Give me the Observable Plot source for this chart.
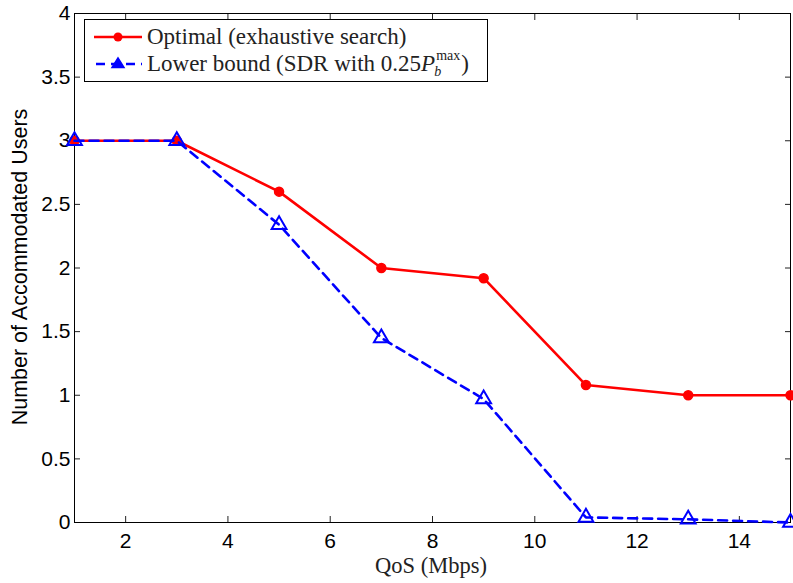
<!DOCTYPE html>
<html>
<head>
<meta charset="utf-8">
<script src="https://cdn.jsdelivr.net/npm/d3@7"></script>
<script src="https://cdn.jsdelivr.net/npm/@observablehq/plot@0.6"></script>
<style>
  html, body { margin: 0; padding: 0; background: #fff; }
  #wrap { position: relative; width: 793px; height: 583px; }
  #wrap svg.plot { position: absolute; left: 0; top: 0; }
  .ytitle { position: absolute; left: 20px; top: 267px; transform: translate(-50%, -50%) rotate(-90deg);
            font: 21.5px "Liberation Sans", Arial, sans-serif; white-space: nowrap; color: #000; }
  .xtitle { position: absolute; left: 431px; top: 566px; transform: translate(-50%, -50%);
            font: 22.5px/24px "Liberation Serif", "DejaVu Serif", serif; white-space: nowrap; color: #222; }
  .legend { position: absolute; left: 84px; top: 19px; width: 402px; height: 61px; background: #fff;
            border: 1px solid #000; font: 23px "Liberation Serif", "DejaVu Serif", serif; color: #222; }
  .legend .row { position: absolute; left: 0; height: 28px; display: flex; align-items: center; white-space: nowrap; }
  .legend svg { margin-left: 9px; margin-right: 5px; }
  .scripts { display: inline-block; position: relative; width: 26px; height: 0; vertical-align: baseline; }
  .scripts .sup { position: absolute; left: 1px; top: -23px; font-size: 14px; line-height: 16px; }
  .scripts .sub { position: absolute; left: -1px; top: -7px; font-size: 14px; line-height: 16px; font-style: italic; }
</style>
</head>
<body>
<div id="wrap"></div>
<script>
const qos = [1, 3, 5, 7, 9, 11, 13, 15];
const optimal = [3, 3, 2.6, 2.0, 1.92, 1.08, 1.0, 1.0];
const lowerBound = [3, 3, 2.34, 1.45, 0.97, 0.04, 0.025, 0];
const xTicks = [2, 4, 6, 8, 10, 12, 14];
const yTicks = [0, 0.5, 1, 1.5, 2, 2.5, 3, 3.5, 4];
const seriesNames = ["Optimal (exhaustive search)", "Lower bound (SDR with 0.25"];

const optData = qos.map((x, i) => ({x, y: optimal[i]}));
const lbData = qos.map((x, i) => ({x, y: lowerBound[i]}));

const tickFont = "Liberation Sans, Arial, sans-serif";

const chart = Plot.plot({
  width: 793,
  height: 583,
  marginLeft: 74,
  marginRight: 3,
  marginTop: 13,
  marginBottom: 61,
  style: {background: "white", overflow: "visible"},
  x: {domain: [1, 15]},
  y: {domain: [0, 4]},
  marks: [
    // inward ticks on all four sides
    Plot.axisX(xTicks, {anchor: "bottom", tickSize: -6, tickFormat: () => "", label: null, stroke: "#222"}),
    Plot.axisX(xTicks, {anchor: "top", tickSize: -6, tickFormat: () => "", label: null, stroke: "#222"}),
    Plot.axisY(yTicks, {anchor: "left", tickSize: -6, tickFormat: () => "", label: null, stroke: "#222"}),
    Plot.axisY(yTicks, {anchor: "right", tickSize: -6, tickFormat: () => "", label: null, stroke: "#222"}),
    // tick labels
    Plot.axisX(xTicks, {anchor: "bottom", tickSize: 0, tickPadding: 11, label: null, fontSize: 21, fontFamily: tickFont, fill: "#000", tickFormat: d => String(d)}),
    Plot.axisY(yTicks, {anchor: "left", tickSize: 0, tickPadding: 4, label: null, fontSize: 21, fontFamily: tickFont, fill: "#000", tickFormat: d => String(d)}),
    Plot.frame({stroke: "#000", strokeWidth: 1}),
    // series
    Plot.line(optData, {x: "x", y: "y", stroke: "#ff0000", strokeWidth: 2.6}),
    Plot.dot(optData, {x: "x", y: "y", r: 4.5, fill: "#ff0000", stroke: "#ff0000"}),
    Plot.line(lbData, {x: "x", y: "y", stroke: "#0000ff", strokeWidth: 2.6, strokeDasharray: "9,6"}),
    Plot.dot(lbData, {x: "x", y: "y", symbol: "triangle", r: 5.5, fill: "none", stroke: "#0000ff", strokeWidth: 2})
  ]
});
chart.classList.add("plot");

const wrap = document.getElementById("wrap");
wrap.appendChild(chart);

const ytitle = document.createElement("div");
ytitle.className = "ytitle";
ytitle.textContent = "Number of Accommodated Users";
wrap.appendChild(ytitle);

const xtitle = document.createElement("div");
xtitle.className = "xtitle";
xtitle.textContent = "QoS (Mbps)";
wrap.appendChild(xtitle);

const legend = document.createElement("div");
legend.className = "legend";
legend.innerHTML = `
  <div class="row" style="top:3px">
    <svg width="48" height="14"><line x1="0" y1="7" x2="48" y2="7" stroke="#ff0000" stroke-width="2.6"/><circle cx="24" cy="7" r="4.5" fill="#ff0000"/></svg>
    <span>${seriesNames[0]}</span>
  </div>
  <div class="row" style="top:30px">
    <svg width="48" height="16"><line x1="0" y1="8" x2="48" y2="8" stroke="#0000ff" stroke-width="2.6" stroke-dasharray="9,6" stroke-dashoffset="-2"/><path d="M24,2 L30,11.5 L18,11.5 Z" fill="#0000ff" stroke="#0000ff" stroke-width="1.5"/></svg>
    <span>${seriesNames[1]}<i>P</i><span class="scripts"><span class="sup">max</span><span class="sub">b</span></span>)</span>
  </div>`;
wrap.appendChild(legend);
</script>
</body>
</html>
